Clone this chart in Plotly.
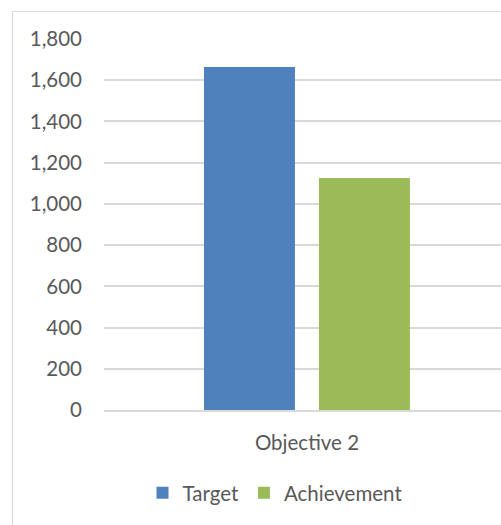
import plotly.graph_objects as go

categories = ["Objective 2"]
target = [1664]
achievement = [1126]
y_ticks = [0, 200, 400, 600, 800, 1000, 1200, 1400, 1600, 1800]
y_tick_labels = ["0", "200", "400", "600", "800", "1,000", "1,200", "1,400", "1,600", "1,800"]

FONT = "Lato"
FS = 20.5
TXT = "#595959"
GRID = "#d9d9d9"

fig = go.Figure()
fig.add_trace(go.Bar(name="Target", x=categories, y=target, marker_color="#4f81bd", marker_line_width=0))
fig.add_trace(go.Bar(name="Achievement", x=categories, y=achievement, marker_color="#9bbb59", marker_line_width=0))

L, T, B = 104, 39, 115
W, H = 501, 525
pw = W - L
ph = H - T - B

fig.update_layout(
    width=W, height=H,
    margin=dict(l=L, r=0, t=T, b=B, pad=0),
    paper_bgcolor="white", plot_bgcolor="white",
    barmode="group", bargap=0.4335, bargroupgap=0.209,
    font=dict(family=FONT, size=FS, color=TXT),
    showlegend=True,
    legend=dict(orientation="h", x=(275 - L) / pw, xanchor="center",
                y=(ph - (493 - T)) / ph, yanchor="middle",
                font=dict(family=FONT, size=FS, color=TXT),
                itemwidth=30, traceorder="normal", bgcolor="rgba(0,0,0,0)"),
    xaxis=dict(range=[-0.5, 0.478], showgrid=False, showline=True, linecolor=GRID, linewidth=1.5,
               ticks="", ticklabelstandoff=14, tickfont=dict(family=FONT, size=FS, color=TXT),
               zeroline=False),
    yaxis=dict(range=[0, 1800], tickvals=y_ticks, ticktext=y_tick_labels, showgrid=True,
               gridcolor=GRID, gridwidth=1.5, showline=False, zeroline=False, ticks="",
               ticklabelstandoff=21, tickfont=dict(family=FONT, size=FS, color=TXT)),
    shapes=[dict(type="rect", xref="paper", yref="paper",
                 x0=(12.5 - L) / pw, x1=1.2, y0=-0.6, y1=(ph + T - 11.5) / ph,
                 line=dict(color=GRID, width=1), fillcolor="rgba(0,0,0,0)", layer="below")],
)

fig.write_html("out.html", config={"displayModeBar": False},
               post_script="document.body.style.margin='0';document.body.style.overflow='hidden';")
